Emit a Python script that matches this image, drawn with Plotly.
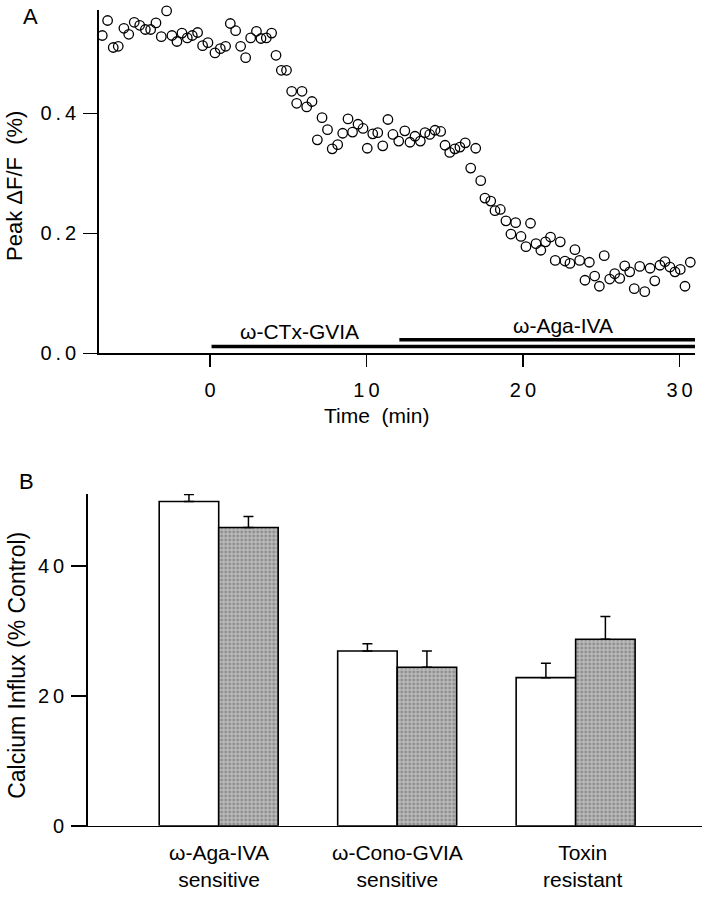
import plotly.graph_objects as go

# ---------------- Panel A data ----------------
time_min = [-6.88, -6.54, -6.18, -5.86, -5.50, -5.19, -4.84, -4.49, -4.13, -3.79,
            -3.45, -3.11, -2.77, -2.43, -2.11, -1.79, -1.45, -1.13, -0.79, -0.47,
            -0.13, 0.32, 0.66, 1.00, 1.30, 1.64, 1.96, 2.28, 2.60, 2.97,
            3.26, 3.60, 3.94, 4.22, 4.56, 4.89, 5.22, 5.54, 5.88, 6.18,
            6.52, 6.86, 7.16, 7.51, 7.81, 8.16, 8.48, 8.82, 9.11, 9.46,
            9.78, 10.05, 10.40, 10.72, 11.04, 11.37, 11.69, 12.06, 12.45, 12.78,
            13.10, 13.44, 13.74, 14.04, 14.38, 14.74, 15.02, 15.32, 15.65, 15.97,
            16.31, 16.66, 16.98, 17.30, 17.57, 17.94, 18.21, 18.55, 18.91, 19.23,
            19.53, 19.87, 20.19, 20.48, 20.83, 21.14, 21.44, 21.76, 22.06, 22.38,
            22.68, 23.00, 23.32, 23.62, 23.96, 24.24, 24.58, 24.88, 25.19, 25.54,
            25.86, 26.18, 26.50, 26.82, 27.11, 27.46, 27.78, 28.12, 28.42, 28.75,
            29.07, 29.39, 29.71, 30.05, 30.35, 30.69, 31.01]
peak_dff = [0.530, 0.555, 0.510, 0.512, 0.542, 0.532, 0.552, 0.547, 0.540, 0.540,
            0.551, 0.528, 0.571, 0.530, 0.520, 0.534, 0.526, 0.530, 0.535, 0.513,
            0.518, 0.501, 0.508, 0.512, 0.550, 0.538, 0.512, 0.493, 0.526, 0.537,
            0.525, 0.526, 0.534, 0.497, 0.472, 0.472, 0.437, 0.417, 0.437, 0.411,
            0.420, 0.356, 0.393, 0.373, 0.341, 0.348, 0.367, 0.391, 0.369, 0.382,
            0.375, 0.342, 0.366, 0.368, 0.346, 0.390, 0.365, 0.354, 0.371, 0.352,
            0.362, 0.354, 0.368, 0.365, 0.372, 0.370, 0.347, 0.335, 0.341, 0.344,
            0.351, 0.309, 0.342, 0.288, 0.259, 0.254, 0.238, 0.240, 0.221, 0.199,
            0.218, 0.195, 0.178, 0.217, 0.183, 0.172, 0.186, 0.194, 0.155, 0.186,
            0.154, 0.150, 0.173, 0.155, 0.122, 0.152, 0.129, 0.112, 0.163, 0.124,
            0.133, 0.125, 0.146, 0.136, 0.108, 0.145, 0.103, 0.142, 0.121, 0.147,
            0.153, 0.144, 0.136, 0.140, 0.112, 0.152, 0.141]
ctx_span = [0.1, 31.0]      # omega-CTx-GVIA application (min)
aga_span = [12.1, 31.0]     # omega-Aga-IVA application (min)
a_xticks = [0, 10, 20, 30]
a_xticktext = ["0", "1\u20090", "2\u20090", "3\u20090"]
a_yticks = [0.0, 0.2, 0.4]
a_yticktext = ["0\u2009.\u20090", "0\u2009.\u20092", "0\u2009.\u20094"]

# ---------------- Panel B data ----------------
categories = ["\u03c9-Aga-IVA<br>sensitive", "\u03c9-Cono-GVIA<br>sensitive", "Toxin<br>resistant"]
cat_pos = [1, 2, 3]
open_vals = [49.9, 26.9, 22.8]
open_err = [1.1, 1.1, 2.2]
grey_vals = [45.9, 24.4, 28.7]
grey_err = [1.7, 2.5, 3.5]
b_yticks = [0, 20, 40]
b_yticktext = ["0", "2\u20090", "4\u20090"]

W, H = 706, 900
VS = 0.988   # the captured page comes out slightly compressed vertically
FONT = "Liberation Sans, Arial, Helvetica, sans-serif"


def fx(p):
    return min(1.0, max(0.0, p / W))


def fy(p):
    return min(1.0, max(0.0, 1 - (p / VS) / H))


fig = go.Figure()

# Panel A scatter
fig.add_trace(go.Scatter(
    x=time_min, y=peak_dff, mode="markers",
    marker=dict(symbol="circle-open", size=9.5, color="black", line=dict(width=1.3)),
    xaxis="x", yaxis="y", showlegend=False, cliponaxis=False))

# toxin application bars
fig.add_trace(go.Scatter(x=ctx_span, y=[0.0115, 0.0115], mode="lines",
                         line=dict(color="black", width=3.4), xaxis="x", yaxis="y",
                         showlegend=False, cliponaxis=False))
fig.add_trace(go.Scatter(x=aga_span, y=[0.0228, 0.0228], mode="lines",
                         line=dict(color="black", width=3.4), xaxis="x", yaxis="y",
                         showlegend=False, cliponaxis=False))

# Panel B bars
fig.add_trace(go.Bar(
    x=cat_pos, y=open_vals, xaxis="x2", yaxis="y2", showlegend=False,
    marker=dict(color="white", line=dict(color="black", width=1.6)),
    error_y=dict(type="data", symmetric=False, array=open_err, arrayminus=[0, 0, 0],
                 color="black", thickness=1.5, width=5)))
fig.add_trace(go.Bar(
    x=cat_pos, y=grey_vals, xaxis="x2", yaxis="y2", showlegend=False,
    marker=dict(color="#aaaaaa", line=dict(color="black", width=1.6),
                pattern=dict(shape=".", fgcolor="#5c5c5c", bgcolor="#bdbdbd",
                             size=4, solidity=0.45)),
    error_y=dict(type="data", symmetric=False, array=grey_err, arrayminus=[0, 0, 0],
                 color="black", thickness=1.5, width=5)))

tickfont = dict(family=FONT, size=20, color="black")

fig.update_layout(
    width=W, height=H,
    margin=dict(l=0, r=0, t=0, b=0),
    paper_bgcolor="white", plot_bgcolor="white",
    barmode="group", bargap=1/3, bargroupgap=0,
    font=dict(family=FONT, color="black"),
    xaxis=dict(domain=[fx(99), fx(695)], range=[-7.09, 30.99], anchor="y",
               showline=True, linecolor="black", linewidth=1.5, showgrid=False,
               zeroline=False, ticks="outside", ticklen=12, tickwidth=1.5,
               tickcolor="black", tickvals=a_xticks, ticktext=a_xticktext,
               tickfont=tickfont, ticklabelstandoff=6),
    yaxis=dict(domain=[fy(353.5), fy(10)], range=[0, 0.5725], anchor="x",
               showline=True, linecolor="black", linewidth=1.8, showgrid=False,
               zeroline=False, ticks="outside", ticklen=14, tickwidth=1.5,
               tickcolor="black", tickvals=a_yticks, ticktext=a_yticktext,
               tickfont=tickfont, ticklabelstandoff=3),
    xaxis2=dict(domain=[fx(87.7), fx(702)], range=[0.266, 3.708], anchor="y2",
                showline=True, linecolor="black", linewidth=1.5, showgrid=False,
                zeroline=False, ticks="", showticklabels=False),
    yaxis2=dict(domain=[fy(826), fy(494)], range=[0, 51.08], anchor="x2",
                showline=True, linecolor="black", linewidth=1.5, showgrid=False,
                zeroline=False, ticks="outside", ticklen=15, tickwidth=1.5,
                tickcolor="black", tickvals=b_yticks, ticktext=b_yticktext,
                tickfont=tickfont, ticklabelstandoff=3),
)


def paper_text(text, x, y, size, angle=0):
    return dict(text=text, x=fx(x), y=fy(y), xref="paper", yref="paper",
                xanchor="center", yanchor="middle", textangle=angle,
                showarrow=False, font=dict(family=FONT, size=size, color="black"))


ann = [
    paper_text("A", 30, 17, 22),
    paper_text("B", 26, 482, 22),
    paper_text("Peak \u0394F/F  (%)", 15, 186, 22, -90),
    paper_text("Time  (min)", 376.5, 416, 21),
    paper_text("Calcium Influx (% Control)", 17, 666, 23, -90),
]
ann.append(dict(text="\u03c9-CTx-GVIA", x=5.69, y=0.036, xref="x", yref="y",
                xanchor="center", yanchor="middle", showarrow=False,
                font=dict(family=FONT, size=21)))
ann.append(dict(text="\u03c9-Aga-IVA", x=22.56, y=0.047, xref="x", yref="y",
                xanchor="center", yanchor="middle", showarrow=False,
                font=dict(family=FONT, size=21)))
label_shift = [0, 0, 7]
for pos, lab, sh in zip(cat_pos, categories, label_shift):
    ann.append(dict(text=lab, x=pos, y=fy(866), xref="x2", yref="paper",
                    xanchor="center", yanchor="middle", xshift=sh,
                    showarrow=False, font=dict(family=FONT, size=21)))

fig.update_layout(annotations=ann)

# remove the browser's default page margin so the 706x900 figure fills the window
page_js = (
    "var h=document.documentElement,b=document.body;"
    "h.style.margin='0';h.style.padding='0';h.style.height='900px';h.style.overflow='hidden';"
    "b.style.margin='0';b.style.padding='0';b.style.height='900px';b.style.overflow='hidden';"
    "var g=document.querySelector('.plotly-graph-div');"
    "if(g&&g.parentElement){g.parentElement.style.height='900px';"
    "g.parentElement.style.overflow='hidden';g.parentElement.style.lineHeight='0';}"
)
fig.write_html("out.html", post_script=page_js,
               config={"displayModeBar": False, "staticPlot": True})
